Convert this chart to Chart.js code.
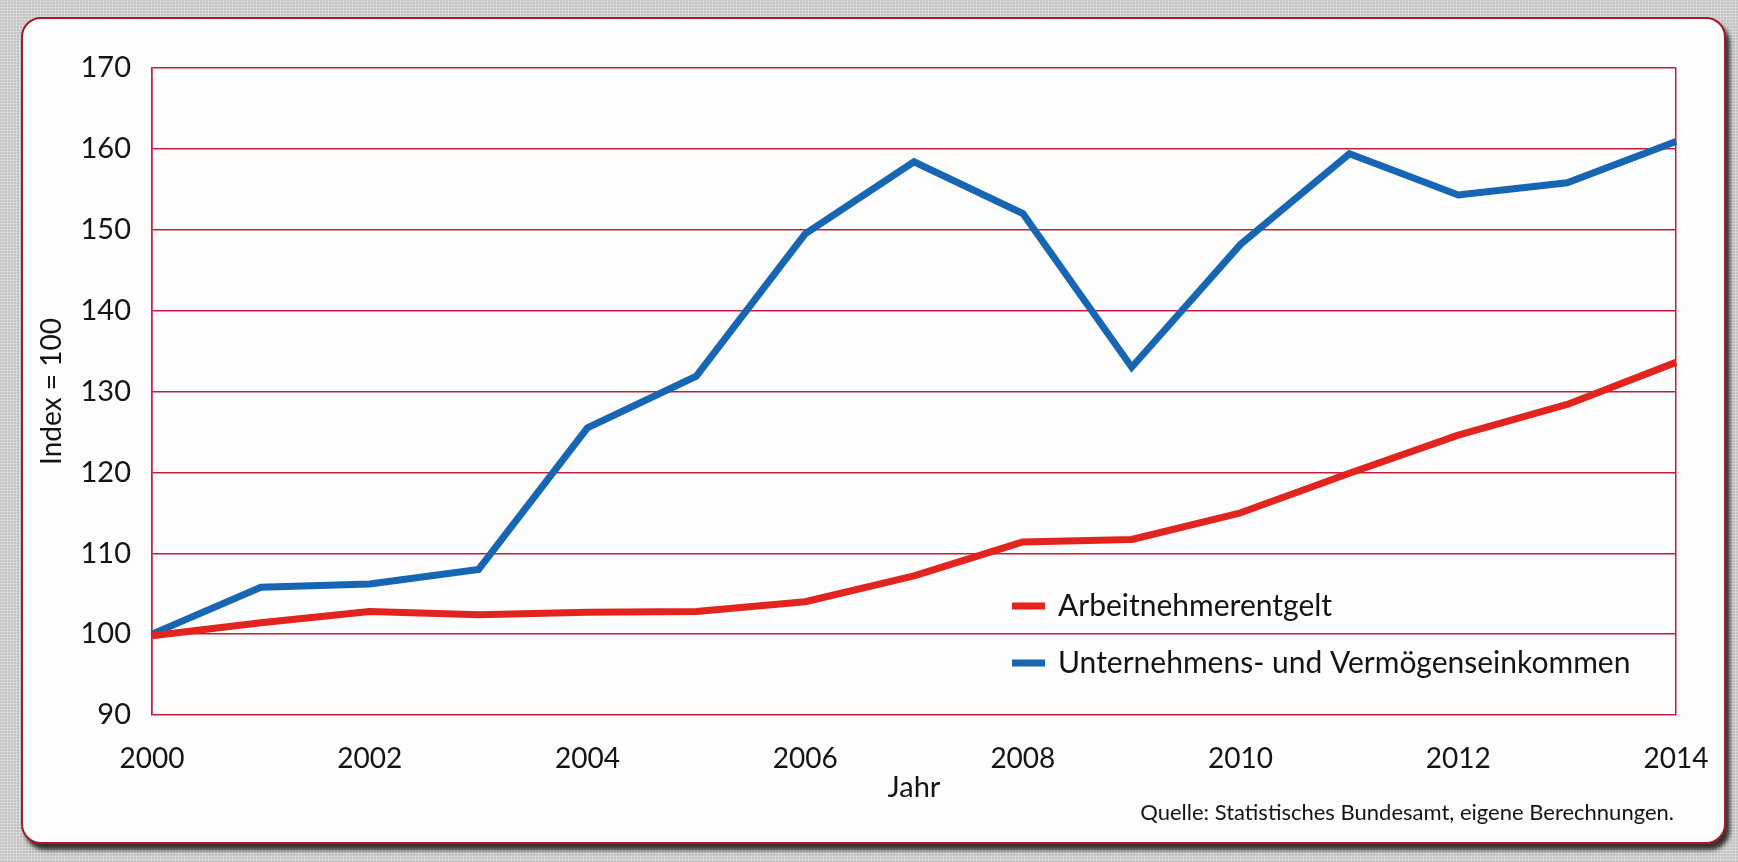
<!DOCTYPE html>
<html lang="de">
<head>
<meta charset="utf-8">
<title>Arbeitnehmerentgelt und Unternehmens- und Vermögenseinkommen</title>
<script src="https://cdn.jsdelivr.net/npm/chart.js@4.4.1/dist/chart.umd.min.js"></script>
<style>
  html, body { margin: 0; padding: 0; }
  body {
    width: 1738px; height: 862px; position: relative; overflow: hidden;
    background-color: #c4c4c4;
    background-image: radial-gradient(rgba(255,255,255,0.45) 0.8px, transparent 1.3px);
    background-size: 3px 3px;
  }
  #card {
    position: absolute; left: 21px; top: 17px; width: 1701px; height: 823px;
    border: 2px solid #a31b27; border-radius: 20px; background: #fdfdfd;
    box-shadow: 4px 6px 4px rgba(30, 20, 20, 0.85);
  }
  #chart { position: absolute; left: 0; top: 0; }
</style>
</head>
<body>
<div id="card"></div>
<canvas id="chart" width="1738" height="862"></canvas>
<script>
const years = [2000, 2001, 2002, 2003, 2004, 2005, 2006, 2007, 2008, 2009, 2010, 2011, 2012, 2013, 2014];
const xTickYears = [2000, 2002, 2004, 2006, 2008, 2010, 2012, 2014];

// Index 2000 = 100
const arbeitnehmerentgelt = [99.8, 101.4, 102.8, 102.4, 102.7, 102.8, 104.0, 107.2, 111.4, 111.7, 115.0, 119.9, 124.6, 128.4, 133.6];
const unternehmenseinkommen = [100, 105.8, 106.2, 108.0, 125.5, 131.9, 149.5, 158.4, 152.0, 133.0, 148.2, 159.4, 154.3, 155.8, 160.9];

const gridColor = '#c21f3d';
const textColor = '#141414';
const fontFamily = 'Lato';

// legend drawn inside the plot, lower right
const lineLegend = {
  id: 'lineLegend',
  afterDatasetsDraw(chart, args, opts) {
    const { ctx } = chart;
    ctx.save();
    ctx.font = `${opts.fontSize}px ${fontFamily}`;
    ctx.textBaseline = 'middle';
    ctx.textAlign = 'left';
    chart.data.datasets.forEach((ds, i) => {
      const y = opts.top + i * opts.rowGap;
      ctx.strokeStyle = ds.borderColor;
      ctx.lineWidth = ds.borderWidth;
      ctx.beginPath();
      ctx.moveTo(opts.left, y);
      ctx.lineTo(opts.left + opts.swatch, y);
      ctx.stroke();
      ctx.fillStyle = textColor;
      ctx.fillText(ds.label, opts.left + opts.swatch + opts.gap, y);
    });
    ctx.restore();
  }
};

const sourceNote = {
  id: 'sourceNote',
  afterDraw(chart, args, opts) {
    const { ctx } = chart;
    ctx.save();
    ctx.font = `${opts.fontSize}px ${fontFamily}`;
    ctx.fillStyle = textColor;
    ctx.textAlign = 'right';
    ctx.textBaseline = 'middle';
    ctx.fillText(opts.text, opts.right, opts.y);
    ctx.restore();
  }
};

function draw() {
  new Chart(document.getElementById('chart'), {
    type: 'line',
    data: {
      labels: years.map(String),
      datasets: [
        {
          label: 'Arbeitnehmerentgelt',
          data: arbeitnehmerentgelt,
          borderColor: '#e2231e',
          borderWidth: 7,
          pointRadius: 0,
          tension: 0,
          borderJoinStyle: 'round'
        },
        {
          label: 'Unternehmens- und Vermögenseinkommen',
          data: unternehmenseinkommen,
          borderColor: '#1766b3',
          borderWidth: 7,
          pointRadius: 0,
          tension: 0,
          borderJoinStyle: 'miter'
        }
      ]
    },
    options: {
      responsive: false,
      animation: false,
      layout: { padding: { left: 30, top: 68, right: 62, bottom: 57 } },
      plugins: {
        legend: { display: false },
        tooltip: { enabled: false },
        lineLegend: { left: 1012, top: 606, rowGap: 57, swatch: 33, gap: 13, fontSize: 30 },
        sourceNote: { text: 'Quelle: Statistisches Bundesamt, eigene Berechnungen.', right: 1674, y: 813, fontSize: 22 }
      },
      scales: {
        x: {
          type: 'category',
          offset: false,
          border: { display: false },
          grid: {
            drawTicks: false,
            lineWidth: 1.5,
            color: (c) => (c.index === 0 || c.index === years.length - 1) ? gridColor : 'rgba(0,0,0,0)'
          },
          ticks: {
            autoSkip: false,
            maxRotation: 0,
            padding: 27,
            color: textColor,
            font: { family: fontFamily, size: 28 },
            callback: (v, i) => xTickYears.includes(years[i]) ? String(years[i]) : ''
          },
          title: {
            display: true,
            text: 'Jahr',
            color: textColor,
            font: { family: fontFamily, size: 29 },
            padding: { top: 0, bottom: 0 }
          },
          afterFit(scale) { scale.height = 90; }
        },
        y: {
          min: 90,
          max: 170,
          border: { display: true, color: gridColor, width: 1.5 },
          grid: { drawTicks: false, lineWidth: 1.5, color: gridColor },
          ticks: {
            stepSize: 10,
            padding: 21,
            color: textColor,
            font: { family: fontFamily, size: 29 }
          },
          title: {
            display: true,
            text: 'Index = 100',
            color: textColor,
            font: { family: fontFamily, size: 28 },
            padding: { top: 5, bottom: 0 }
          },
          afterFit(scale) { scale.width = 122; }
        }
      }
    },
    plugins: [lineLegend, sourceNote]
  });
}

Promise.all([
  document.fonts.load(`28px ${fontFamily}`),
  document.fonts.load(`22px ${fontFamily}`)
]).then(draw, draw);
</script>
</body>
</html>
